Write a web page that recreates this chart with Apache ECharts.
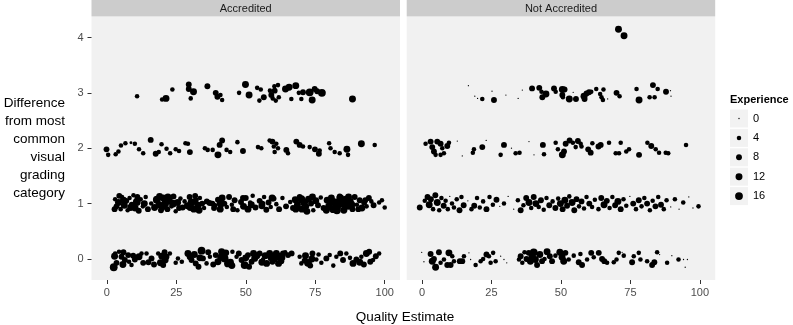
<!DOCTYPE html>
<html>
<head>
<meta charset="utf-8">
<script src="https://cdn.jsdelivr.net/npm/echarts@6/dist/echarts.min.js"></script>
<style>
  html, body { margin: 0; padding: 0; background: #fff; }
  #chart { width: 793px; height: 325px; }
</style>
</head>
<body>
<div id="chart"></div>
<script>
// facets
const panels = ['Accredited', 'Not Accredited']
const xTicks = [0, 25, 50, 75, 100]
const yTicks = [0, 1, 2, 3, 4]
const legendValues = [0, 4, 8, 12, 16]

// [quality estimate, difference (jittered), experience]
const accRow0 = [
  [2.5, -0.15, 16], [3.5, -0.07, 8], [4.4, 0.13, 4], [5.3, 0.04, 8], [6.5, -0.02, 8], [7.7, 0.07, 8],
  [8.9, -0.11, 4], [10.1, -0.01, 8], [11.6, 0.04, 12], [13.1, -0.07, 8], [14.3, 0.1, 4], [16.1, 0.01, 8],
  [18.5, 0.1, 4], [19.3, -0.07, 12], [20.3, -0.11, 8], [21.5, 0.04, 8], [22.7, 0.1, 4], [24.8, -0.07, 4],
  [25.6, 0.01, 4], [29.2, 0.1, 12], [30.5, -0.02, 8], [32, -0.08, 8], [34.1, 0.15, 16], [34.6, 0.01, 8],
  [35.9, -0.08, 4], [37.1, 0.04, 4], [39.2, 0.07, 8], [40, -0.05, 12], [41.3, 0.13, 12], [42.4, 0.01, 16],
  [43.6, -0.08, 16], [45.2, 0.13, 4], [46.7, 0.04, 4], [48.5, -0.02, 8], [49.6, -0.11, 16], [50.8, 0.07, 8],
  [52.1, -0.05, 8], [53.2, 0.01, 12], [55, 0.1, 8], [56.2, -0.01, 4], [58.6, 0.1, 12], [59.6, -0.05, 8],
  [61, 0.1, 12], [62.2, 0.04, 16], [63.4, 0.1, 8], [65.2, 0.07, 8], [69.4, 0.04, 4], [70, -0.08, 4],
  [71.2, -0.03, 8], [72.4, -0.07, 16], [74, 0.1, 8], [75.4, -0.01, 4], [77.2, -0.07, 4], [79, 0.01, 8],
  [80.2, 0.07, 4], [82.6, 0.04, 4], [85, -0.02, 8], [86.2, 0.1, 4], [88.6, -0.08, 12], [89.8, -0.01, 8],
  [91.6, 0.04, 4], [93.4, 0.1, 12], [94.4, 0.13, 8], [95.8, -0.02, 4], [98, 0.1, 4],
  [3, 0.1, 4], [6, 0.12, 8], [8, -0.05, 4], [12.5, 0.1, 4], [17, -0.1, 8], [20.8, 0.12, 8], [27, -0.05, 4],
  [31.5, 0.08, 12], [33, -0.14, 8], [36.5, 0.12, 8], [38.3, -0.1, 8], [44.5, -0.06, 12], [47.5, 0.1, 8],
  [51.2, -0.14, 8], [54, 0.06, 12], [57.5, -0.08, 12], [60.2, 0, 12], [62.8, -0.04, 8], [64.2, 0.12, 4],
  [66.5, 0.1, 8], [73.2, -0.12, 8], [76.2, 0.08, 4], [81.5, -0.12, 4], [84, 0.1, 8], [87.5, 0.02, 4],
  [92.5, -0.1, 8], [96.8, 0.05, 8],
  [2.8, 0.05, 12], [5.8, -0.1, 12], [9.5, 0.06, 8], [15, -0.06, 8], [19.8, 0.05, 12], [21, -0.02, 12],
  [30, 0.04, 12], [33.5, 0.02, 12], [41, 0.03, 12], [42.8, 0.11, 12], [45, -0.12, 12], [50, 0.02, 12],
  [52.8, 0.1, 12], [55.8, -0.06, 12], [57, 0.06, 12], [59.2, 0.03, 16], [61.8, -0.08, 12], [63, 0.02, 12],
  [71.5, 0.06, 12], [73.8, 0, 12], [91, -0.06, 12], [94.8, -0.05, 8]
]
const accRow1 = [
  [3, 1.08, 4], [3.5, 0.95, 8], [4.2, 1.02, 12], [5, 0.9, 4], [5.5, 1.12, 4], [6.3, 0.97, 12], [7, 1.05, 8],
  [7.5, 0.88, 4], [8.2, 1.1, 4], [9, 0.98, 8], [9.6, 1.15, 4], [10.2, 0.92, 12], [10.8, 1.03, 16], [11.5, 0.87, 8],
  [12.2, 1.08, 4], [13, 0.95, 4], [14, 1.12, 4], [14.8, 0.9, 8], [16, 1, 4], [17.2, 0.93, 12], [18, 1.07, 16],
  [18.8, 0.98, 12], [19.5, 0.88, 8], [20.3, 1.1, 12], [21, 1, 16], [21.8, 0.9, 8], [22.5, 1.05, 12], [23.3, 0.95, 4],
  [24, 1.13, 8], [24.8, 0.86, 4], [25.5, 1.02, 12], [26.5, 1.09, 4], [27.3, 0.93, 8], [28, 1.04, 4], [29, 0.96, 12],
  [29.8, 1.12, 8], [30.5, 1.02, 16], [31.3, 0.9, 12], [32, 1.06, 8], [32.8, 0.97, 12], [33.5, 1.1, 4], [34.3, 1, 8],
  [35, 0.92, 4], [36, 1.04, 8], [37, 1.01, 8], [38, 1, 8], [39, 0.97, 4], [40, 1.07, 8], [40.8, 0.9, 12],
  [41.5, 1.1, 12], [42.3, 1, 8], [43.2, 0.94, 4], [44, 1.12, 8], [45, 0.98, 4], [46, 1.06, 8], [47, 0.88, 4],
  [48.3, 1.03, 8], [49.2, 0.95, 12], [50, 1.1, 8], [50.8, 0.9, 12], [51.6, 1.02, 4], [52.5, 1.14, 4], [53.5, 0.93, 8],
  [55, 1.05, 8], [55.8, 0.96, 12], [56.6, 1.12, 4], [57.4, 0.89, 8], [58.2, 1.02, 8], [59, 0.94, 4], [60, 1.09, 8],
  [61, 0.99, 4], [62, 0.9, 8], [63.2, 1.1, 4], [64.5, 0.95, 8], [66, 1.03, 4], [67, 0.92, 8], [67.8, 1.07, 12],
  [68.6, 0.98, 12], [69.4, 1.12, 8], [70.2, 0.9, 12], [71, 1.02, 16], [71.8, 0.95, 8], [72.6, 1.08, 12], [73.5, 1, 8],
  [74.3, 0.88, 4], [75.2, 1.05, 12], [76, 0.97, 8], [77, 1.11, 4], [78, 0.92, 8], [79.3, 1.06, 12], [80, 0.95, 16],
  [80.8, 1.1, 12], [81.5, 0.9, 16], [82.2, 1.02, 16], [83, 0.93, 12], [83.8, 1.13, 8], [84.5, 1, 16], [85.3, 0.88, 12],
  [86, 1.08, 12], [86.8, 0.96, 16], [87.6, 1.04, 12], [88.4, 0.9, 8], [89.2, 1.12, 8], [90, 0.98, 4], [91, 1.06, 8],
  [91.8, 0.92, 12], [92.6, 1.02, 8], [93.5, 0.95, 4], [94.3, 1.1, 8], [95.2, 1.04, 4], [96, 0.97, 8], [98, 1.02, 4],
  [99, 1.06, 4], [100, 0.93, 4],
  [2.8, 0.9, 8], [4.5, 1.14, 8], [6, 1.06, 12], [8.6, 0.93, 12], [11, 1.12, 8], [13.5, 1, 12], [19, 1.13, 12],
  [20, 0.95, 16], [22, 1.12, 12], [23.8, 1, 16], [26, 0.92, 8], [30, 0.93, 12], [31.8, 1.14, 8], [33.2, 0.88, 12],
  [38.6, 0.92, 8], [41, 1, 16], [45.5, 0.9, 8], [49, 1.1, 8], [52, 0.98, 12], [56, 1, 8], [59.5, 1.1, 12],
  [68, 0.9, 12], [70, 1.08, 16], [72, 0.86, 12], [74, 1.12, 12], [79, 0.88, 12], [81, 1.04, 16], [82.8, 0.88, 16],
  [84, 1.1, 16], [85.5, 1, 16], [87, 1.12, 12], [88, 0.98, 16], [90.5, 0.9, 8], [93, 1.06, 8]
]
const accRow2 = [
  [-0.1, 1.98, 8], [0.5, 1.88, 4], [3.2, 1.89, 4], [4.2, 1.94, 4], [5.1, 2.05, 4], [6.7, 2.09, 4], [8.7, 2.1, 1],
  [10.1, 2.08, 4], [11.6, 1.98, 4], [13.1, 1.91, 4], [15.8, 2.15, 8], [17.6, 1.9, 8], [18.7, 1.93, 4], [19.7, 2.07, 4],
  [21.5, 1.99, 4], [22.8, 1.91, 4], [24.8, 1.98, 4], [26, 1.95, 4], [28.3, 2.09, 4], [29.2, 2.08, 4], [29.9, 1.93, 8],
  [35.3, 2, 4], [36.3, 1.97, 4], [38.1, 1.97, 4], [40, 1.88, 12], [40.6, 2.06, 8], [41.5, 2.14, 8], [43.1, 1.97, 4],
  [44.4, 1.93, 4], [47, 2.11, 4], [49, 1.95, 8], [54.4, 2.02, 4], [55.6, 2, 4], [58.6, 2.14, 4], [59.6, 2.12, 8],
  [60.1, 2.03, 4], [60.4, 1.93, 4], [61, 2.08, 4], [61.6, 2, 4], [64.6, 1.97, 8], [65.2, 1.91, 4], [68.2, 2.12, 8],
  [69.4, 2.06, 8], [70.6, 2.03, 4], [73, 2.02, 4], [74.9, 1.98, 8], [76.3, 1.9, 8], [76.6, 1.96, 4], [80, 2.09, 4],
  [80.5, 2, 4], [82, 1.93, 4], [83.8, 1.91, 4], [86.4, 1.98, 12], [86.8, 1.88, 4], [91.6, 2.08, 12], [96.4, 2.06, 4]
]
const accRow3 = [
  [10.9, 2.94, 4], [19.9, 2.88, 4], [21.3, 2.9, 12], [23.6, 3.06, 4], [29.5, 3.15, 8], [29.5, 3.07, 8], [31.2, 3.02, 12],
  [30.2, 2.9, 4], [36.2, 3.12, 8], [39.2, 3, 8], [39.8, 2.93, 8], [40.9, 2.96, 4], [41.5, 2.87, 4], [47.6, 3, 4],
  [49.9, 3.15, 12], [51.2, 2.96, 12], [54.1, 3.09, 4], [55.4, 3.06, 4], [54.9, 2.86, 4], [56.5, 2.92, 8], [58.7, 3.04, 4],
  [59.2, 2.96, 8], [59.7, 2.9, 4], [60.3, 3.12, 4], [60.4, 3.04, 8], [60.8, 2.86, 4], [61.6, 3.14, 4], [61.9, 2.92, 4],
  [64.3, 3.07, 12], [65.6, 3.1, 12], [66.4, 2.89, 4], [68, 3.13, 12], [69.1, 3, 4], [70, 2.89, 4], [70.6, 3.01, 8],
  [73, 3.01, 16], [73.9, 2.87, 12], [74.8, 3.07, 8], [75.7, 3.03, 8], [77.4, 3, 16], [88.4, 2.89, 12]
]
const notRow0 = [
  [-0.1, 0.12, 0], [0.7, -0.05, 0], [3.1, 0.09, 8], [3.7, -0.04, 12], [4.3, 0, 8], [4.9, -0.15, 12], [6.1, 0.12, 8],
  [6.7, -0.07, 4], [7.9, -0.01, 4], [9.1, -0.11, 8], [9.7, 0.11, 12], [10.3, -0.11, 8], [10.9, 0.05, 4], [11.5, -0.04, 4],
  [13.6, -0.04, 8], [14.5, -0.04, 8], [15.1, 0.05, 4], [16.9, 0.11, 0], [17.5, -0.01, 0], [19.3, -0.11, 4], [21.1, -0.04, 4],
  [22, 0, 4], [23.2, 0.08, 8], [24.1, 0.05, 4], [24.7, -0.07, 4], [25.6, 0.11, 4], [26.5, -0.04, 4], [28.3, 0.05, 0],
  [29.5, -0.01, 0], [30.5, -0.07, 0], [34.9, -0.01, 4], [35.5, 0.05, 8], [36.1, -0.07, 4], [36.9, 0.12, 4], [37.6, 0, 8],
  [38.4, 0.11, 8], [39, -0.04, 12], [39.6, 0.05, 12], [40.2, 0.12, 16], [40.8, -0.01, 12], [41.4, -0.11, 8], [42.4, 0.08, 12],
  [43.2, -0.04, 8], [44.1, 0, 4], [45, 0.13, 12], [46, 0.05, 8], [46.8, -0.04, 8], [48, 0.06, 4], [49.6, 0.12, 12],
  [50.4, 0.03, 12], [51, -0.04, 12], [51.6, 0.11, 8], [52.8, -0.01, 4], [54.6, 0.06, 4], [56.4, -0.06, 8], [57, 0.09, 4],
  [57.6, -0.11, 8], [59.4, -0.01, 4], [60.9, 0.11, 8], [61.8, 0.03, 4], [63.6, 0.11, 8], [64.8, 0, 8], [65.6, -0.04, 8],
  [66.6, -0.07, 4], [69, -0.06, 4], [70, -0.01, 4], [70.8, 0.11, 4], [72, 0.12, 0], [72.6, 0.06, 4], [75.6, -0.06, 8],
  [76.2, 0.05, 4], [78, 0.11, 4], [78.6, -0.01, 4], [81, -0.04, 4], [82.8, -0.11, 8], [83.6, -0.06, 8], [84.6, 0.12, 4],
  [85.5, 0.08, 0], [88.2, -0.07, 4], [89.9, 0.06, 0], [92.3, -0.01, 4], [94.1, -0.01, 0], [94.7, -0.15, 0], [95.5, -0.01, 0]
]
const notRow1 = [
  [-0.8, 0.93, 8], [1, 1.05, 4], [2, 1.12, 8], [2.6, 0.98, 12], [3.2, 1.08, 8], [4, 0.9, 4], [4.8, 1.15, 8], [5.5, 1.02, 12],
  [6.2, 0.88, 4], [7, 1.1, 4], [7.8, 0.96, 8], [8.5, 1.05, 4], [9.3, 0.9, 4], [10, 1.13, 0], [10.8, 1, 4], [11.5, 0.93, 4],
  [12.5, 1.08, 4], [13.5, 0.88, 8], [14.2, 1.12, 4], [15, 0.97, 8], [16.5, 1.05, 0], [17.8, 0.9, 4], [18.8, 0.96, 8],
  [19.8, 1.1, 4], [20.8, 0.93, 4], [22, 1.04, 4], [23.2, 0.9, 8], [24.3, 1.12, 4], [25.5, 0.98, 4], [26.8, 1.07, 8],
  [28, 0.95, 0], [29.5, 1, 4], [31, 1.13, 0], [33, 0.9, 0], [34.5, 1.06, 4], [35.5, 0.88, 8], [36.5, 0.97, 4], [37.5, 1.1, 8],
  [38.5, 1.02, 12], [39.3, 0.92, 4], [40.2, 1.12, 8], [41, 1, 12], [42, 0.94, 4], [42.8, 1.06, 8], [43.8, 0.89, 4],
  [44.8, 1.1, 4], [45.8, 0.97, 8], [47, 1.04, 4], [48, 0.92, 8], [49, 1.09, 4], [49.8, 1, 12], [50.6, 0.9, 8], [51.4, 1.06, 12],
  [52.2, 0.96, 8], [53, 1.13, 4], [54, 1.02, 12], [54.8, 0.88, 8], [55.6, 1.08, 8], [56.5, 0.95, 4], [57.4, 1.04, 8],
  [58.3, 0.91, 4], [59.2, 1.12, 4], [60.2, 1, 8], [61.2, 0.94, 4], [62.2, 1.07, 4], [63.5, 0.9, 4], [64.5, 1.1, 8],
  [65.5, 0.98, 12], [66.5, 1.05, 8], [67.5, 0.92, 4], [68.5, 1.12, 4], [69.5, 0.97, 8], [70.5, 1.04, 12], [71.5, 0.9, 8],
  [72.5, 1.08, 4], [73.5, 0.96, 4], [74.8, 1.13, 0], [76, 1, 8], [77, 0.9, 4], [78, 1.06, 8], [79, 0.95, 4], [80, 1.1, 4],
  [81, 1, 8], [82, 0.88, 4], [83, 1.05, 4], [84, 0.95, 8], [85, 1.12, 4], [86, 0.98, 8], [87, 0.9, 4], [88, 1.06, 4],
  [89.5, 0.94, 0], [91, 1.08, 4], [92.5, 0.9, 0], [94, 1.02, 4], [96, 1.12, 0], [97.5, 0.92, 0], [99.5, 0.95, 4]
]
const notRow2 = [
  [1.3, 2.08, 4], [3.1, 2.12, 8], [3.7, 2.02, 8], [4.3, 1.94, 8], [4.9, 1.88, 4], [5.5, 2.12, 8], [6.7, 2.08, 8],
  [7.3, 2, 4], [7.9, 1.91, 4], [9.1, 2.04, 8], [9.7, 2.1, 4], [6.7, 1.88, 4], [12.7, 2.13, 0], [14.5, 1.86, 0],
  [18.3, 1.92, 4], [18.7, 1.98, 4], [21.7, 2.02, 8], [23.1, 2.14, 0], [28.3, 1.88, 4], [29.5, 2.06, 8], [32.2, 2, 0],
  [33.7, 1.91, 4], [35.1, 1.92, 4], [38.5, 2.12, 0], [40.3, 1.88, 0], [43.5, 2.06, 8], [43.9, 1.89, 4], [48.1, 2.1, 4],
  [48.9, 1.98, 4], [50.5, 1.88, 12], [51.1, 1.94, 8], [51.7, 2.08, 8], [53.1, 2.14, 8], [54.3, 2.1, 4], [55.3, 2.02, 4],
  [56.1, 2.13, 8], [57.1, 2.08, 4], [57.4, 2.03, 4], [59.8, 1.98, 8], [60.7, 1.92, 8], [61.3, 2.09, 4], [63.5, 2.03, 8],
  [64.3, 2.06, 8], [67.3, 2.1, 4], [69.7, 1.91, 4], [70.9, 1.91, 4], [71.5, 2.1, 4], [73.5, 1.94, 4], [74.5, 1.98, 4],
  [78.1, 1.88, 8], [81.1, 2.1, 4], [82.5, 2.04, 8], [84.1, 1.98, 4], [85.3, 1.92, 4], [87.7, 1.92, 4], [88.6, 1.91, 4],
  [95, 2.06, 4]
]
const notRow3 = [
  [16.7, 3.13, 0], [19, 2.94, 0], [20, 2.9, 0], [21.7, 2.89, 4], [25.2, 3.03, 0], [25.9, 2.87, 8], [30.2, 2.96, 0],
  [34.6, 2.9, 0], [36.1, 3.05, 0], [39.6, 3.08, 8], [42.2, 3.09, 8], [43, 3.02, 4], [43.3, 2.92, 8], [44.6, 2.98, 12],
  [47.5, 3.08, 8], [48.1, 3.02, 4], [50.5, 3.06, 12], [51.3, 3.06, 8], [50.5, 2.96, 8], [50.7, 2.92, 4], [53, 2.89, 12],
  [54.4, 3.01, 0], [55.4, 2.89, 8], [58.3, 2.94, 12], [58.5, 2.89, 8], [59.2, 2.99, 8], [60.1, 3.01, 8], [60.9, 3.02, 4],
  [62.7, 3.07, 4], [64.1, 2.98, 4], [64.6, 2.92, 4], [65.3, 3.06, 4], [65.1, 2.87, 4], [66.8, 2.89, 0], [70, 3, 8],
  [71.1, 2.94, 4], [77.2, 3.07, 4], [78.1, 2.87, 12], [81.9, 2.92, 4], [83.1, 3.14, 8], [83.7, 2.92, 4], [84.8, 3.07, 4],
  [87.8, 3.02, 8], [89.4, 3.04, 0], [89.6, 2.94, 0]
]
const notRow4 = [[70.7, 4.15, 12], [72.7, 4.03, 12]]

const accredited = [].concat(accRow0, accRow1, accRow2, accRow3)
const notAccredited = [].concat(notRow0, notRow1, notRow2, notRow3, notRow4)

const font = 'Liberation Sans, Arial, Helvetica, sans-serif'
// ggplot-like area scale for point size (diameter in px)
function sizeOf (e) {
  return 1.3 * (1 + 5 * Math.sqrt(e / 16))
}

const gridLeft = [91.5, 406.7]
const gridW = 308.5
const gridTop = 17
const gridH = 263

const chart = echarts.init(document.getElementById('chart'), null, { renderer: 'canvas' })

const grids = panels.map((p, i) => ({
  left: gridLeft[i], top: gridTop, width: gridW, height: gridH,
  show: true, backgroundColor: '#f1f1f1', borderWidth: 0
}))

const xAxes = panels.map((p, i) => ({
  type: 'value', gridIndex: i, min: -5.5, max: 105.5, position: 'bottom',
  axisLine: { show: false, onZero: false },
  axisTick: { show: true, length: 4, customValues: xTicks, lineStyle: { color: '#333' } },
  axisLabel: { customValues: xTicks, color: '#4d4d4d', fontSize: 11, fontFamily: font, margin: 7 },
  splitLine: { show: false }
}))

const yAxes = panels.map((p, i) => ({
  type: 'value', gridIndex: i, min: -0.38, max: 4.37, position: 'left',
  axisLine: { show: false, onZero: false },
  axisTick: { show: i === 0, length: 4, customValues: yTicks, lineStyle: { color: '#333' } },
  axisLabel: { show: i === 0, customValues: yTicks, color: '#4d4d4d', fontSize: 11, fontFamily: font, margin: 8 },
  splitLine: { show: false }
}))

const series = [accredited, notAccredited].map((d, i) => ({
  type: 'scatter', xAxisIndex: i, yAxisIndex: i,
  data: d,
  symbolSize: v => sizeOf(v[2]),
  itemStyle: { color: '#000', opacity: 1 },
  silent: true
}))

const graphics = []
panels.forEach((p, i) => {
  graphics.push({
    type: 'rect', left: gridLeft[i], top: 0,
    shape: { width: gridW, height: 16.5 },
    style: { fill: '#cccccc' }
  })
  graphics.push({
    type: 'text', x: gridLeft[i] + gridW / 2, y: 8.5,
    style: { text: p, fill: '#1a1a1a', font: '11px ' + font, textAlign: 'center', textVerticalAlign: 'middle' }
  })
})
graphics.push({
  type: 'text', x: 65, y: 148,
  style: {
    text: 'Difference\nfrom most\ncommon\nvisual\ngrading\ncategory',
    fill: '#000', font: '13.5px ' + font, textAlign: 'right', textVerticalAlign: 'middle', lineHeight: 18
  }
})
graphics.push({
  type: 'text', x: 405, y: 317,
  style: { text: 'Quality Estimate', fill: '#000', font: '13.5px ' + font, textAlign: 'center', textVerticalAlign: 'middle' }
})

// size legend
graphics.push({
  type: 'text', x: 730, y: 100,
  style: { text: 'Experience', fill: '#000', font: 'bold 11px ' + font, textAlign: 'left', textVerticalAlign: 'middle' }
})
legendValues.forEach((v, k) => {
  const cy = 118.5 + k * 19.4
  graphics.push({
    type: 'rect', left: 730, top: cy - 9,
    shape: { width: 18, height: 18 },
    style: { fill: '#f2f2f2' }
  })
  graphics.push({
    type: 'circle',
    shape: { cx: 739, cy: cy, r: sizeOf(v) / 2 },
    style: { fill: '#000' }
  })
  graphics.push({
    type: 'text', x: 753, y: cy,
    style: { text: String(v), fill: '#000', font: '11px ' + font, textAlign: 'left', textVerticalAlign: 'middle' }
  })
})

chart.setOption({
  animation: false,
  grid: grids,
  xAxis: xAxes,
  yAxis: yAxes,
  series: series,
  graphic: graphics
})
</script>
</body>
</html>
